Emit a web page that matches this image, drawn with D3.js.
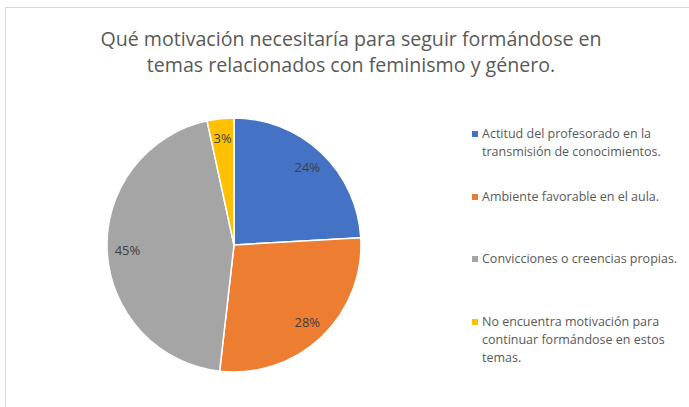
<!DOCTYPE html>
<html>
<head>
    <meta charset="utf-8">
    <style> body { margin: 0; background: #fff; } </style>
    <script src="https://d3js.org/d3.v7.min.js"></script>
</head>
<body>
    <div id="chart"></div>
    <script>
        const titleLines = ["Qué motivación necesitaría para seguir formándose en",
                            "temas relacionados con feminismo y género."];
        const categories = [
            "Actitud del profesorado en la transmisión de conocimientos.",
            "Ambiente favorable en el aula.",
            "Convicciones o creencias propias.",
            "No encuentra motivación para continuar formándose en estos temas."
        ];
        // legend lines as Excel wraps them
        const legendLines = [
            ["Actitud del profesorado en la", "transmisión de conocimientos."],
            ["Ambiente favorable en el aula."],
            ["Convicciones o creencias propias."],
            ["No encuentra motivación para", "continuar formándose en estos", "temas."]
        ];
        const values = [24.1, 27.7, 44.8, 3.4];
        const colors = ["#4472c4", "#ed7d31", "#a5a5a5", "#ffc000"];

        const width = 689, height = 407;
        const font = "'Open Sans', sans-serif";
        const textColor = "#595959";

        const svg = d3.select("#chart").append("svg")
            .attr("width", width)
            .attr("height", height);

        // chart area border (only top and left visible)
        svg.append("rect")
            .attr("x", 5.5).attr("y", 7.5)
            .attr("width", 720).attr("height", 420)
            .attr("fill", "none")
            .attr("stroke", "#d9d9d9");

        svg.append("g").selectAll("text")
            .data(titleLines)
            .join("text")
            .attr("x", 351)
            .attr("y", (d, i) => 46 + i * 26)
            .attr("text-anchor", "middle")
            .attr("font-family", font)
            .attr("font-size", 19.6)
            .attr("fill", textColor)
            .text(d => d);

        const cx = 234, cy = 245, r = 127;
        const total = d3.sum(values);

        const pie = d3.pie().sort(null).value(d => d);
        const arc = d3.arc().innerRadius(0).outerRadius(r);
        const labelArc = d3.arc().innerRadius(r * 0.84).outerRadius(r * 0.84);

        const g = svg.append("g").attr("transform", `translate(${cx},${cy})`);
        const arcs = pie(values);

        g.selectAll("path")
            .data(arcs)
            .join("path")
            .attr("d", arc)
            .attr("fill", (d, i) => colors[i])
            .attr("stroke", "#fff")
            .attr("stroke-width", 1.5);

        g.selectAll("text")
            .data(arcs)
            .join("text")
            .attr("transform", d => `translate(${labelArc.centroid(d)})`)
            .attr("text-anchor", "middle")
            .attr("dy", "0.35em")
            .attr("font-family", font)
            .attr("font-size", 13)
            .attr("fill", "#404040")
            .text(d => Math.round(d.data / total * 100) + "%");

        // legend
        const legendY = [134, 197, 259, 322];
        const lineH = 17.7;
        const legend = svg.append("g").selectAll("g")
            .data(categories)
            .join("g")
            .attr("transform", (d, i) => `translate(472,${legendY[i]})`);

        legend.append("rect")
            .attr("x", 0).attr("y", -3)
            .attr("width", 6).attr("height", 6)
            .attr("fill", (d, i) => colors[i]);

        legend.append("text")
            .attr("font-family", font)
            .attr("font-size", 12.5)
            .attr("fill", textColor)
            .selectAll("tspan")
            .data((d, i) => legendLines[i])
            .join("tspan")
            .attr("x", 10)
            .attr("y", (d, j) => j * lineH)
            .attr("dy", "0.35em")
            .text(d => d);
    </script>
</body>
</html>
